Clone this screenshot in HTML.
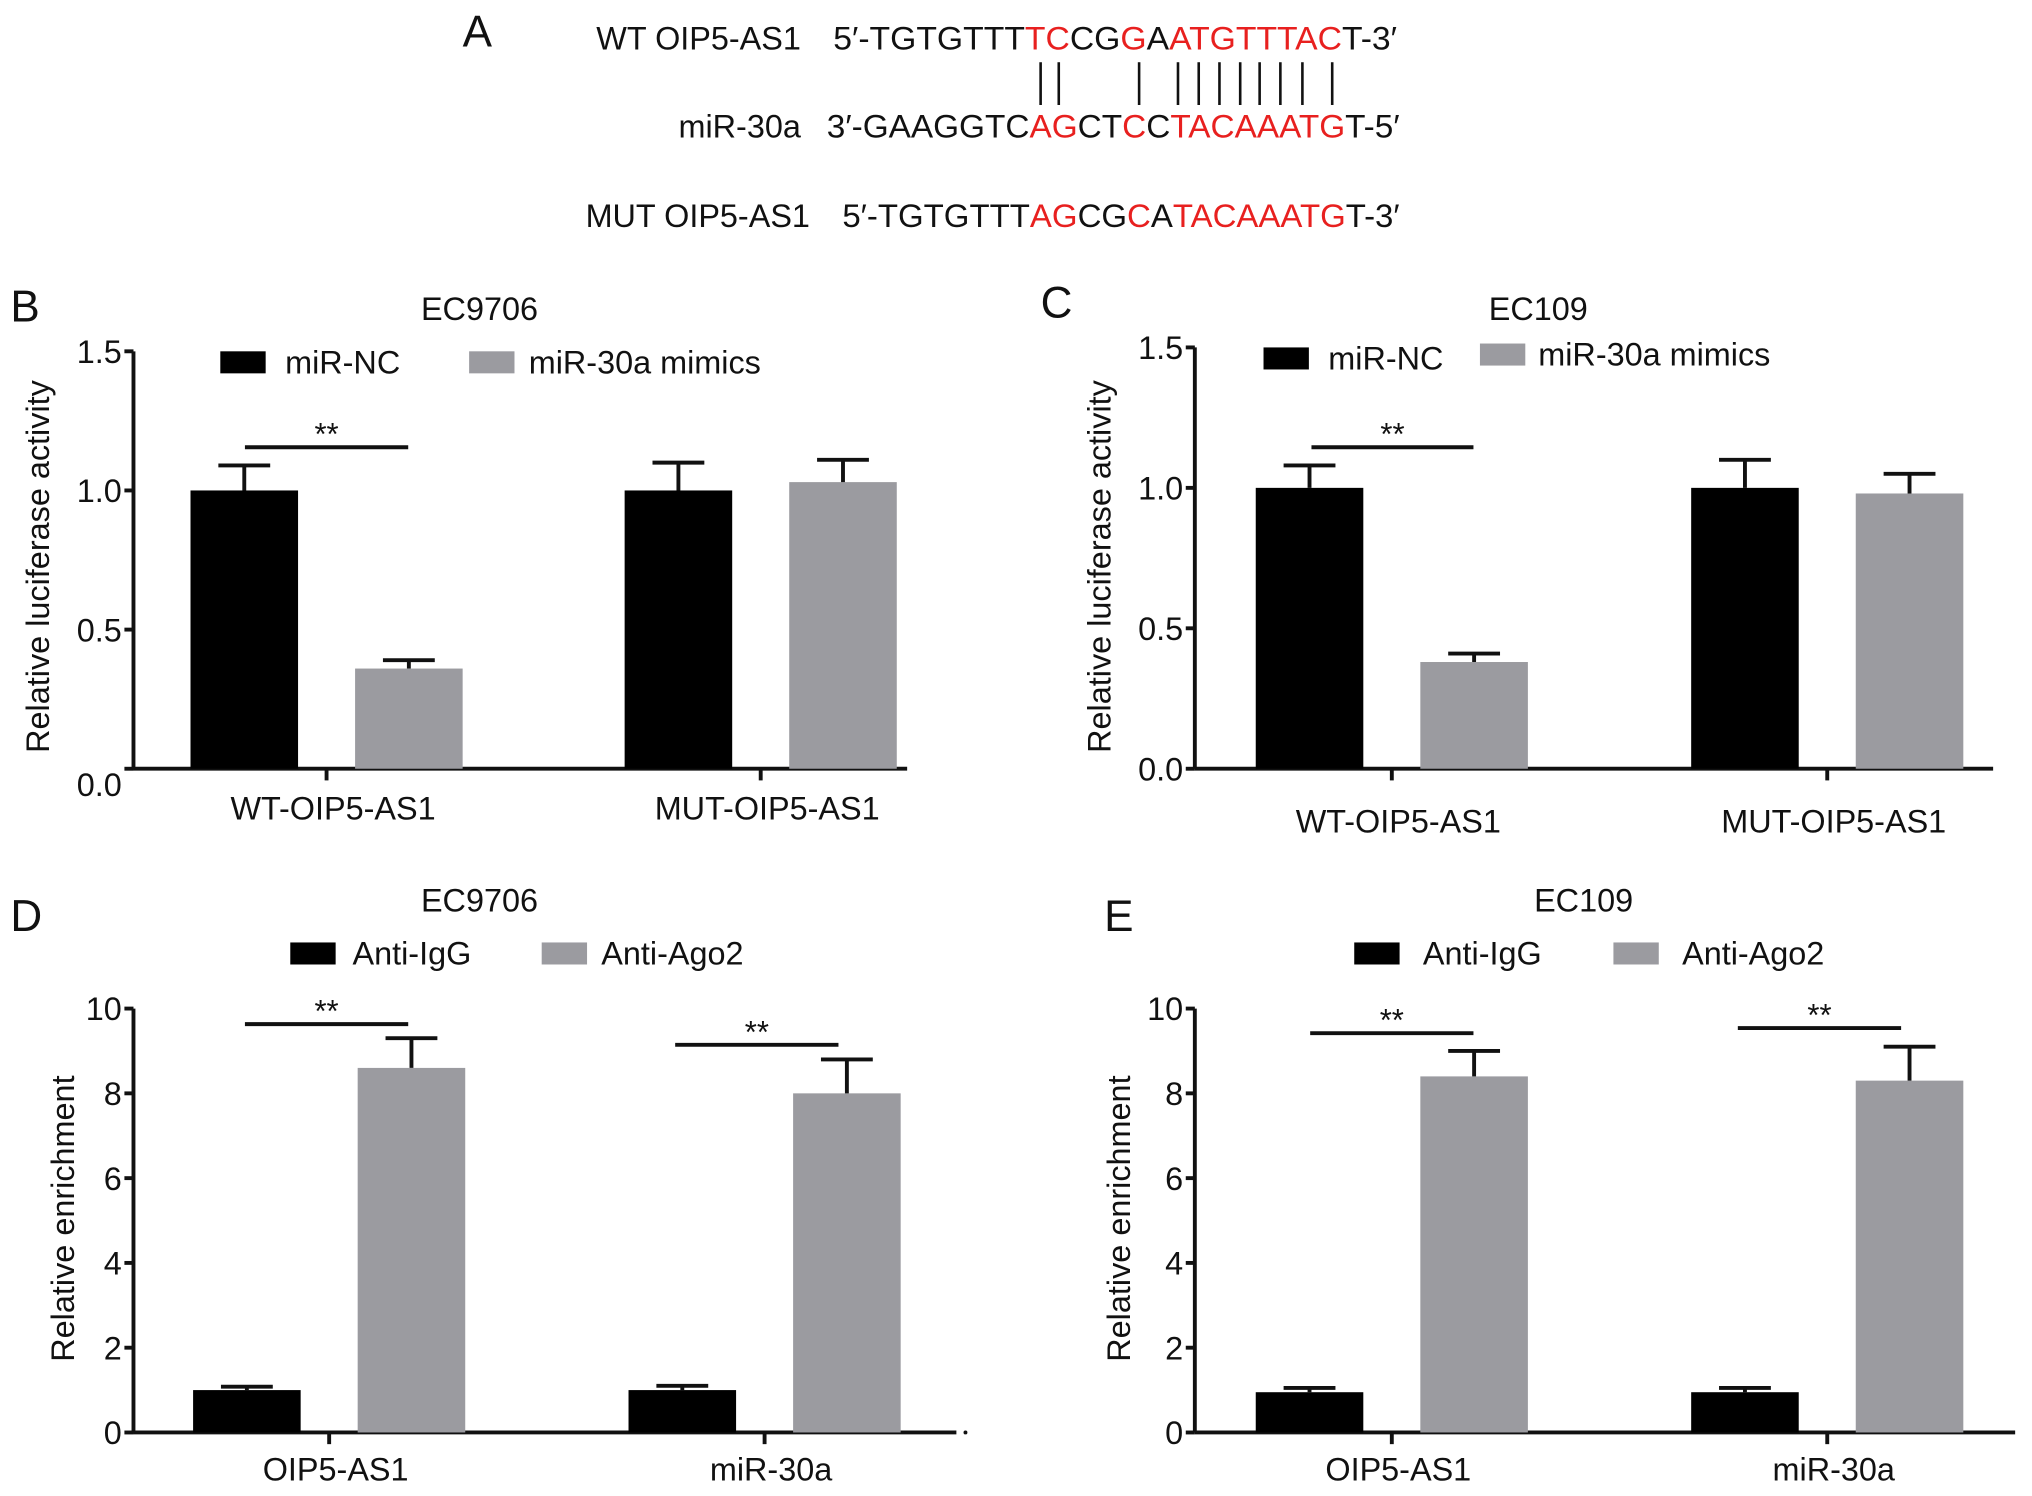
<!DOCTYPE html>
<html><head><meta charset="utf-8"><style>
html,body{margin:0;padding:0;background:#fff;}
svg{display:block;font-family:"Liberation Sans",Arial,sans-serif;}
</style></head><body>
<svg id="fig" width="2032" height="1496" viewBox="0 0 1568 1154" preserveAspectRatio="none" xmlns="http://www.w3.org/2000/svg">
<g font-size="25" fill="#111">
  <text x="357" y="36" font-size="34">A</text>
  <text x="618" y="38" text-anchor="end">WT OIP5-AS1</text>
  <text x="643" y="38" textLength="435" lengthAdjust="spacingAndGlyphs">5′-TGTGTTT<tspan fill="#e8201f">TC</tspan>CG<tspan fill="#e8201f">G</tspan>A<tspan fill="#e8201f">ATGTTTAC</tspan>T-3′</text>
  <g stroke="#111" stroke-width="2">
    <line x1="803" y1="48" x2="803" y2="81"/><line x1="817" y1="48" x2="817" y2="81"/>
    <line x1="879" y1="48" x2="879" y2="81"/><line x1="909" y1="48" x2="909" y2="81"/>
    <line x1="925" y1="48" x2="925" y2="81"/><line x1="941" y1="48" x2="941" y2="81"/>
    <line x1="957" y1="48" x2="957" y2="81"/><line x1="972" y1="48" x2="972" y2="81"/>
    <line x1="988" y1="48" x2="988" y2="81"/><line x1="1005" y1="48" x2="1005" y2="81"/>
    <line x1="1028" y1="48" x2="1028" y2="81"/>
  </g>
  <text x="618" y="106" text-anchor="end">miR-30a</text>
  <text x="638" y="106" textLength="442" lengthAdjust="spacingAndGlyphs">3′-GAAGGTC<tspan fill="#e8201f">AG</tspan>CT<tspan fill="#e8201f">C</tspan>C<tspan fill="#e8201f">TACAAATG</tspan>T-5′</text>
  <text x="625" y="175" text-anchor="end">MUT OIP5-AS1</text>
  <text x="650" y="175" textLength="430" lengthAdjust="spacingAndGlyphs">5′-TGTGTTT<tspan fill="#e8201f">AG</tspan>CG<tspan fill="#e8201f">C</tspan>A<tspan fill="#e8201f">TACAAATG</tspan>T-3′</text>
</g>
<g id="charts"></g>
</svg>
<script>
// Panel B
const bCats = ["WT-OIP5-AS1","MUT-OIP5-AS1"];
const bSeries1 = [1.0, 1.0];
const bErr1 = [0.09, 0.10];
const bSeries2 = [0.36, 1.03];
const bErr2 = [0.03, 0.08];
const bTicks = ["0.0","0.5","1.0","1.5"];
// Panel C
const cCats = ["WT-OIP5-AS1","MUT-OIP5-AS1"];
const cSeries1 = [1.0, 1.0];
const cErr1 = [0.08, 0.10];
const cSeries2 = [0.38, 0.98];
const cErr2 = [0.03, 0.07];
const cTicks = ["0.0","0.5","1.0","1.5"];
// Panel D
const dCats = ["OIP5-AS1","miR-30a"];
const dSeries1 = [1.0, 1.0];
const dErr1 = [0.08, 0.10];
const dSeries2 = [8.6, 8.0];
const dErr2 = [0.7, 0.8];
const dTicks = ["0","2","4","6","8","10"];
// Panel E
const eCats = ["OIP5-AS1","miR-30a"];
const eSeries1 = [0.95, 0.95];
const eErr1 = [0.10, 0.10];
const eSeries2 = [8.4, 8.3];
const eErr2 = [0.6, 0.8];
const eTicks = ["0","2","4","6","8","10"];

const NS = "http://www.w3.org/2000/svg";
const root = document.getElementById("charts");
function mk(tag, attrs, parent, text) {
  const e = document.createElementNS(NS, tag);
  for (const k in attrs) e.setAttribute(k, attrs[k]);
  if (text !== undefined) e.textContent = text;
  parent.appendChild(e);
  return e;
}
function panel(cfg) {
  const g = mk("g", {}, root);
  
  
  const ymax = parseFloat(cfg.ticks[cfg.ticks.length - 1]);
  const y = v => cfg.y0 - (v / ymax) * (cfg.y0 - cfg.yTop);
  const lbl = mk("text", {x: cfg.lx, y: cfg.ly, "font-size": 34, fill: "#111"}, g, cfg.letter);
  
  
  const t = mk("text", {x: cfg.tx, y: cfg.ty, "font-size": 25, "text-anchor": "middle", fill: "#111"}, g, cfg.title);
  
  
  // y axis
  const ya = mk("line", {x1: cfg.ax, y1: cfg.yTop, x2: cfg.ax, y2: cfg.y0, stroke: "#111", "stroke-width": 3}, g);
  
  
  cfg.ticks.forEach((tk, i) => {
    const v = parseFloat(tk);
    const tl = mk("line", {x1: cfg.ax - 7, y1: y(v), x2: cfg.ax, y2: y(v), stroke: "#111", "stroke-width": 3}, g);
    
    
    const tt = mk("text", {x: cfg.ax - 9, y: y(v) + 9 + (i === 0 && cfg.zeroDrop ? 12 : 0), "font-size": 25, "text-anchor": "end", fill: "#111"}, g, tk);
    
    
  });
  const yt = mk("text", {x: 0, y: 0, "font-size": 25, "text-anchor": "middle", fill: "#111", transform: `translate(${cfg.ytx},${cfg.yty}) rotate(-90)`}, g, cfg.ytitle);
  
  
  // x axis
  const xa = mk("line", {x1: cfg.ax, y1: cfg.y0, x2: cfg.axEnd, y2: cfg.y0, stroke: "#111", "stroke-width": 3}, g);
  
  
  const bw = 83;
  cfg.cats.forEach((c, i) => {
    const cx = cfg.groupX[i];
    const xt = mk("line", {x1: cx, y1: cfg.y0, x2: cx, y2: cfg.y0 + 9, stroke: "#111", "stroke-width": 3}, g);
    
    
    const xl = mk("text", {x: cx + 5, y: cfg.catY, "font-size": 25, "text-anchor": "middle", fill: "#111"}, g, c);
    
    
    [[cfg.s1, cfg.e1, "#000", -bw - 22], [cfg.s2, cfg.e2, "#9b9ba0", 22]].forEach(([s, e, col, off], k) => {
      const x0 = cx + off;
      const v = s[i];
      const r = mk("rect", {x: x0, y: y(v), width: bw, height: cfg.y0 - y(v), fill: col}, g);
      
      
      const mx = x0 + bw / 2;
      const el = mk("path", {d: `M${mx},${y(v)} V${y(v + e[i])} M${mx - 20},${y(v + e[i])} H${mx + 20}`, stroke: "#111", "stroke-width": 3, fill: "none"}, g);
      
      
    });
  });
  cfg.sig.forEach(s => {
    const sl = mk("line", {x1: s[0], y1: s[2], x2: s[1], y2: s[2], stroke: "#111", "stroke-width": 3}, g);
    
    
    const st = mk("text", {x: (s[0] + s[1]) / 2, y: s[2] - 2, "font-size": 24, "text-anchor": "middle", fill: "#111"}, g, "**");
    
    
  });
  // legend
  cfg.legend.forEach(L => {
    const lr = mk("rect", {x: L[0], y: L[1], width: 35, height: 17, fill: L[2]}, g);
    
    
    const lt = mk("text", {x: L[3], y: L[1] + 17, "font-size": 25, fill: "#111"}, g, L[4]);
    
    
  });
  if (cfg.dot) {
    const d = mk("circle", {cx: cfg.dot, cy: cfg.y0, r: 1.5, fill: "#111"}, g);
    
    
  }
}
panel({name:"panel-b", letter:"B", lx:8, ly:248, title:"EC9706", tx:370, ty:247, ax:103, axEnd:700, yTop:271, y0:593,
  ticks:bTicks, zeroDrop:true, ytitle:"Relative luciferase activity", ytx:38, yty:437, cats:bCats, groupX:[252,587], catY:632,
  s1:bSeries1, e1:bErr1, s2:bSeries2, e2:bErr2, sig:[[189,315,345]],
  legend:[[170,271,"#000",220,"miR-NC"],[362,271,"#9b9ba0",408,"miR-30a mimics"]]});
panel({name:"panel-c", letter:"C", lx:803, ly:245, title:"EC109", tx:1187, ty:247, ax:922, axEnd:1538, yTop:268, y0:593,
  ticks:cTicks, zeroDrop:false, ytitle:"Relative luciferase activity", ytx:857, yty:437, cats:cCats, groupX:[1074,1410], catY:642,
  s1:cSeries1, e1:cErr1, s2:cSeries2, e2:cErr2, sig:[[1012,1137,345]],
  legend:[[975,268,"#000",1025,"miR-NC"],[1142,265,"#9b9ba0",1187,"miR-30a mimics"]]});
panel({name:"panel-d", letter:"D", lx:8, ly:718, title:"EC9706", tx:370, ty:703, ax:103, axEnd:738, yTop:778, y0:1105,
  ticks:dTicks, zeroDrop:false, ytitle:"Relative enrichment", ytx:57, yty:940, cats:dCats, groupX:[254,590], catY:1142,
  s1:dSeries1, e1:dErr1, s2:dSeries2, e2:dErr2, sig:[[189,315,790],[521,647,806]], dot:745,
  legend:[[224,727,"#000",272,"Anti-IgG"],[418,727,"#9b9ba0",464,"Anti-Ago2"]]});
panel({name:"panel-e", letter:"E", lx:852, ly:718, title:"EC109", tx:1222, ty:703, ax:922, axEnd:1555, yTop:778, y0:1105,
  ticks:eTicks, zeroDrop:false, ytitle:"Relative enrichment", ytx:872, yty:940, cats:eCats, groupX:[1074,1410], catY:1142,
  s1:eSeries1, e1:eErr1, s2:eSeries2, e2:eErr2, sig:[[1011,1137,797],[1341,1467,793]],
  legend:[[1045,727,"#000",1098,"Anti-IgG"],[1245,727,"#9b9ba0",1298,"Anti-Ago2"]]});
</script>
</body></html>
